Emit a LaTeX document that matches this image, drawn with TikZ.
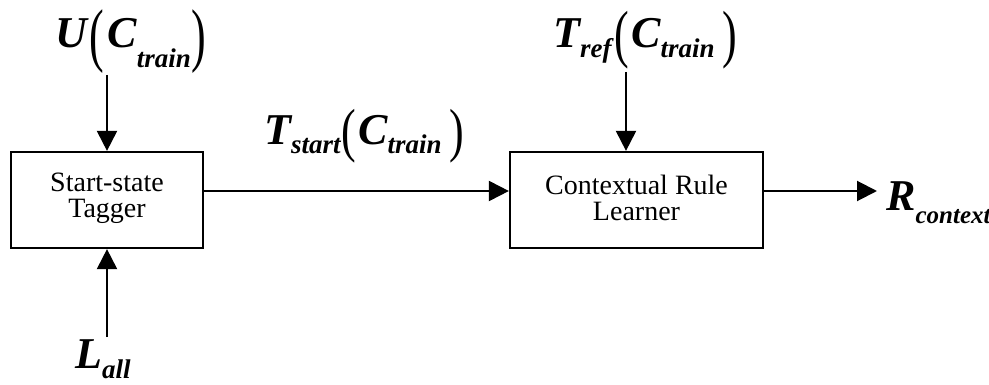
\documentclass[tikz,border=0pt]{standalone}
\usepackage{fontspec}
\setmainfont{Liberation Serif}
\newfontfamily\myBI{Liberation Serif}[UprightFont={* Bold Italic}]
\usepackage{graphicx}
\usetikzlibrary{arrows.meta}
\newcommand\myMain{\fontsize{44}{44}\selectfont}
\newcommand\myLet[1]{{\myMain\myBI #1}}
\newcommand\myParen[3]{\raisebox{-#2pt}{\scalebox{1}[#3]{\myMain #1}}}
\newcommand\mySub[3][27]{\raisebox{-#2pt}{\fontsize{#1}{#1}\selectfont\myBI #3}}
\begin{document}
\begin{tikzpicture}[x=1pt,y=-1pt,
  box/.style={draw,line width=2.2pt,inner sep=0pt},
  boxtext/.style={inner sep=0pt,align=center,font=\fontsize{28}{26}\selectfont},
  lbl/.style={anchor=base west,inner sep=0pt},
  arr/.style={line width=2pt,-{Triangle[length=20pt,width=20pt]}}]
\useasboundingbox (0,0) rectangle (989,385);
\node[box,minimum width=192pt,minimum height=96pt] (b1) at (107,200) {};
\node[box,minimum width=253pt,minimum height=96pt] (b2) at (636.5,200) {};
\node[boxtext] (t1) at ([yshift=2pt]b1) {Start-state\\Tagger};
\node[boxtext] (t2) at ([yshift=2pt]b2) {Contextual Rule\\Learner};
% labels
\node[lbl] (lu) at (55,48) {\myLet{U}\hspace{3pt}\myParen{(}{11}{1.6}\hspace{3pt}\myLet{C}\mySub{20}{train}\myParen{)}{11}{1.6}};
\node[lbl] (ll) at (75,368) {\myLet{L}\mySub{10}{all}};
\node[lbl] (ls) at (264,145) {\myLet{T}\mySub{9}{start}\hspace{1pt}\myParen{(}{6}{1.35}\hspace{2pt}\myLet{C}\mySub{9}{train}\hspace{8pt}\myParen{)}{6}{1.35}};
\node[lbl] (lr) at (553,48) {\myLet{T}\mySub{10}{ref}\hspace{3pt}\myParen{(}{8}{1.45}\hspace{2pt}\myLet{C}\mySub{10}{train}\hspace{8pt}\myParen{)}{8}{1.45}};
\node[lbl] (lc) at (886,211) {\myLet{R}\mySub[25]{13}{context}};
% connectors
\coordinate (uin) at (107,75);
\coordinate (lin) at (107,337);
\coordinate (tin) at (626,72);
\coordinate (rout) at (877,191);
\draw[arr] (uin) -- (b1.north);
\draw[arr] (lin) -- (b1.south);
\draw[arr] ([yshift=9pt]b1.east) -- ([yshift=9pt]b2.west);
\draw[arr] (tin) -- (tin |- b2.north);
\draw[arr] ([yshift=9pt]b2.east) -- (rout);
\end{tikzpicture}
\end{document}
